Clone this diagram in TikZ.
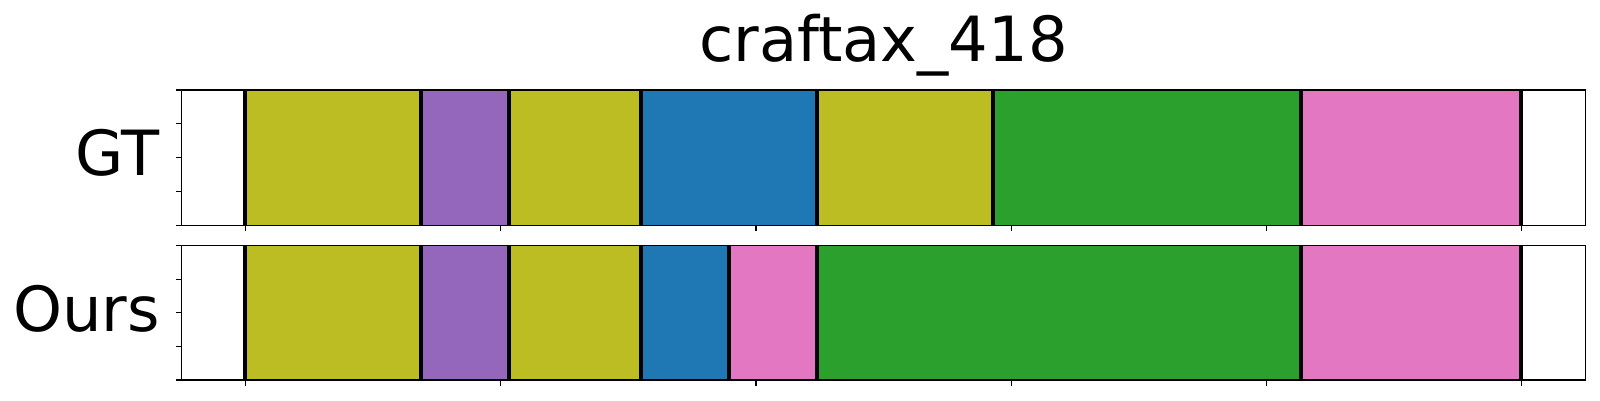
\documentclass[tikz,border=0pt]{standalone}
\usepackage{fontspec}
\setmainfont{DejaVu Sans}
\definecolor{tabolive}{HTML}{BCBD22}
\definecolor{tabpurple}{HTML}{9467BD}
\definecolor{tabblue}{HTML}{1F77B4}
\definecolor{tabgreen}{HTML}{2CA02C}
\definecolor{tabpink}{HTML}{E377C2}
\tikzset{
  seg/.style={fill=#1, draw=#1!85!black, line width=0.6pt},
  bound/.style={draw=black, line width=4pt},
  frame/.style={draw=black, line width=1.3pt},
  tick/.style={draw=black, line width=1.1pt},
  lbl/.style={inner sep=0pt, font=\fontsize{62.3}{68}\selectfont},
}
\begin{document}
\begin{tikzpicture}[x=1pt,y=-1pt]
\useasboundingbox (0,0) rectangle (1600,400);
\fill[white] (0,0) rectangle (1600,400);
% ---------- GT axis (top 90, bottom 225.3) ----------
\foreach \a/\b/\c in {245/421/tabolive, 421/509/tabpurple, 509/641/tabolive, 641/817/tabblue, 817/993/tabolive, 993/1301/tabgreen, 1301/1521/tabpink}
  \path[seg=\c] (\a,90) rectangle (\b,225.3);
\foreach \x in {245,421,509,641,817,993,1301,1521}
  \draw[bound] (\x,90) -- (\x,225.3);
% ---------- Ours axis (top 245.7, bottom 380) ----------
\foreach \a/\b/\c in {245/421/tabolive, 421/509/tabpurple, 509/641/tabolive, 641/729/tabblue, 729/817/tabpink, 817/1301/tabgreen, 1301/1521/tabpink}
  \path[seg=\c] (\a,245.7) rectangle (\b,380);
\foreach \x in {245,421,509,641,729,817,1301,1521}
  \draw[bound] (\x,245.7) -- (\x,380);
% ---------- frames ----------
\draw[frame] (181.5,90) rectangle (1585.7,225.3);
\draw[frame] (181.5,245.7) rectangle (1585.7,380);
% ---------- ticks ----------
\foreach \y in {90,123.8,157.6,191.5,225.3}
  \draw[tick] (181.5,\y) -- (175.8,\y);
\foreach \y in {245.7,279.3,312.9,346.4,380}
  \draw[tick] (181.5,\y) -- (175.8,\y);
\foreach \k in {0,...,5}{
  \draw[tick] ({245.6+255.2*\k},225.3) -- ({245.6+255.2*\k},230.8);
  \draw[tick] ({245.6+255.2*\k},380) -- ({245.6+255.2*\k},385.5);
}
% ---------- labels ----------
\node[lbl, anchor=base east] (gt) at (159.5,175) {GT};
\node[lbl, anchor=base east] (ours) at (160,331) {Ours};
\node[lbl, anchor=base] (title) at (883.6,61.7) {craftax\_418};
\end{tikzpicture}
\end{document}
